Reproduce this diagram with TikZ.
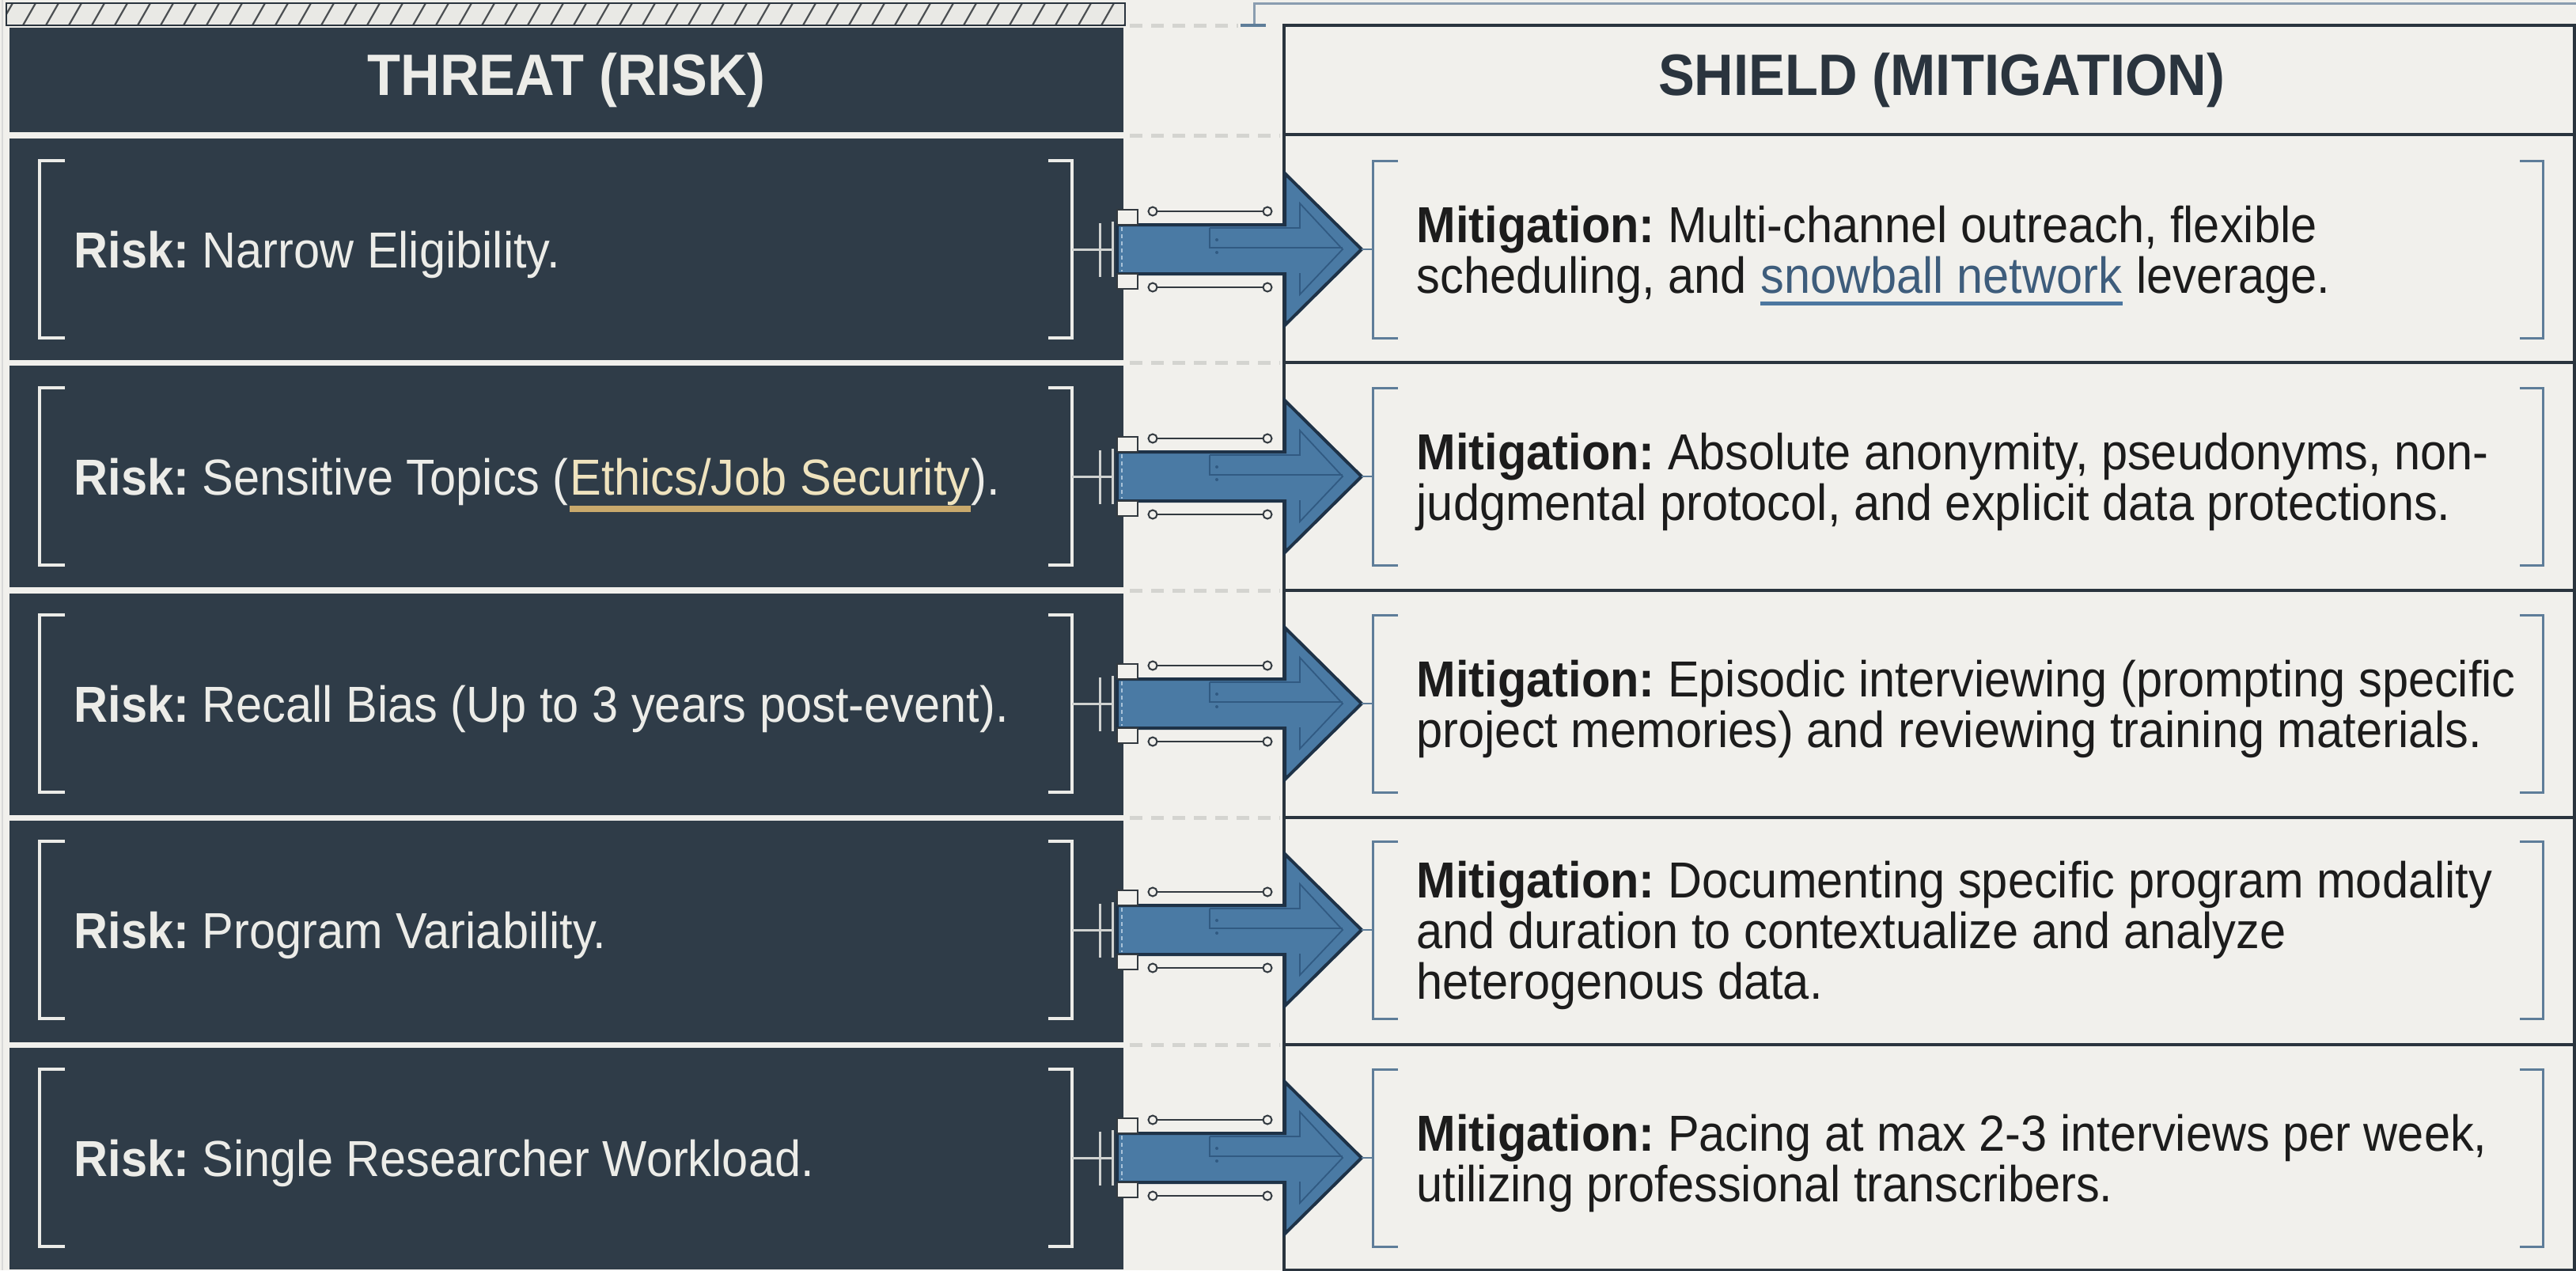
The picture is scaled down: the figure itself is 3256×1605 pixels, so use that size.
\documentclass[tikz,border=0pt]{standalone}
\usepackage{fontspec}
\setmainfont{Liberation Sans}[FakeStretch=0.93]
\usetikzlibrary{calc}
\frenchspacing
\definecolor{bg}{HTML}{F1F0EC}
\definecolor{slate}{HTML}{2F3C48}
\definecolor{ink}{HTML}{1C1C1C}
\definecolor{frame}{HTML}{2A343E}
\definecolor{lt}{HTML}{ECECE8}
\definecolor{brk}{HTML}{5E7D99}
\definecolor{toplinec}{HTML}{8A9DB0}
\definecolor{arrowfill}{HTML}{4A7AA4}
\definecolor{arrowline}{HTML}{1E3247}
\definecolor{arrowin}{HTML}{315A82}
\definecolor{shaftdash}{HTML}{A8C2D8}
\definecolor{dashc}{HTML}{D4D4D0}
\definecolor{gold}{HTML}{C9A96C}
\definecolor{cream}{HTML}{EFE3BE}
\definecolor{snow}{HTML}{3E5D7C}
\definecolor{snowline}{HTML}{4C77A0}
\definecolor{hatchc}{HTML}{4B4F52}
\definecolor{hatchbg}{HTML}{E9E9E5}
\definecolor{rodc}{HTML}{333A40}
\begin{document}
\frenchspacing
\begin{tikzpicture}[x=0.01cm,y=-0.01cm,
  lbox/.style={fill=slate, inner sep=0, minimum width=14.08cm},
  rbox/.style={draw=frame, line width=0.04cm, fill=bg, inner sep=0, minimum width=16.31cm},
  hdrtxt/.style={inner sep=0, font=\fontsize{21}{24}\selectfont\bfseries},
  ltxt/.style={inner sep=0, text=lt, font=\fontsize{18.2}{22}\selectfont\frenchspacing, anchor=base west},
  rtxt/.style={inner sep=0, text=ink, font=\fontsize{18.2}{22}\selectfont\frenchspacing, anchor=base west},
  lbrk/.style={draw=lt, line width=0.035cm},
  rbrk/.style={draw=brk, line width=0.03cm},
  sepdash/.style={draw=dashc, line width=0.05cm, dash pattern=on 0.16cm off 0.11cm},
  arrowbody/.style={fill=arrowfill, draw=arrowline, line width=0.04cm, line join=miter},
  arrowdeco/.style={draw=arrowin, line width=0.018cm},
  smallbox/.style={fill=bg, draw=rodc, line width=0.025cm},
  rod/.style={draw=rodc, line width=0.02cm},
  rodend/.style={fill=bg, draw=rodc, line width=0.02cm},
  tick/.style={draw=lt!85!slate, line width=0.03cm}
]
\fill[bg] (0,0) rectangle (3256,1605);
\useasboundingbox (0,0) rectangle (3256,1605);
\draw[black!15, line width=0.02cm] (3,0) -- (3,1605);

% hatched strip
\begin{scope}
  \clip (8,4) rectangle (1422,32);
  \fill[hatchbg] (8,4) rectangle (1422,32);
  \foreach \x in {0,29,...,1450} \draw[hatchc, line width=0.022cm] (\x,32) -- (\x+16,4);
\end{scope}
\draw[frame, line width=0.025cm] (8,4) rectangle (1422,32);

% top right frame line
\draw[toplinec, line width=0.03cm] (1585,32) -- (1585,4) -- (3260,4);
\draw[brk, line width=0.04cm] (1568,32) -- (1600,32);

% dashed separators between columns
\draw[sepdash] (1428,32) -- (1565,32);
\foreach \y in {171,458,746,1033,1320} \draw[sepdash] (1428,\y) -- (1618,\y);

% left column
\node[lbox, minimum height=1.32cm] (L0) at (716,101) {};
\node[hdrtxt, text=lt] (H0) at (716,101) {THREAT (RISK)};
\foreach \c [count=\i] in {315,602,890,1177,1464}
  \node[lbox, minimum height=2.80cm] (L\i) at (716,\c) {};

% right column
\node[rbox, minimum height=1.38cm] (R0) at (2438.5,101) {};
\node[hdrtxt, text=frame] (H1) at (2454,101) {SHIELD (MITIGATION)};
\node[rbox, minimum height=2.88cm] (R1) at (2438.5,314) {};
\node[rbox, minimum height=2.88cm] (R2) at (2438.5,602) {};
\node[rbox, minimum height=2.87cm] (R3) at (2438.5,889.5) {};
\node[rbox, minimum height=2.87cm] (R4) at (2438.5,1176.5) {};
\node[rbox, minimum height=2.85cm] (R5) at (2438.5,1462.5) {};
\draw[black!25, line width=0.03cm] (R5.south west) -- (R5.south east);

% brackets, arrows, fittings
\foreach \c in {315,602,889,1175,1463} {
  \draw[lbrk] (82,\c-112) -- (50,\c-112) -- (50,\c+112) -- (82,\c+112);
  \draw[lbrk] (1325,\c-112) -- (1355,\c-112) -- (1355,\c+112) -- (1325,\c+112);
  \draw[tick] (1355,\c) -- (1406,\c);
  \draw[tick] (1390,\c-33) -- (1390,\c+35);
  \draw[tick] (1406,\c-35) -- (1406,\c+35);
  \draw[rbrk] (1767,\c-112) -- (1735,\c-112) -- (1735,\c+112) -- (1767,\c+112);
  \draw[rbrk] (3185,\c-112) -- (3214,\c-112) -- (3214,\c+112) -- (3185,\c+112);
  \begin{scope}[shift={(0,\c)}]
    \draw[arrowbody] (1412,-31) -- (1624,-31) -- (1624,-96) -- (1721,0)
       -- (1624,96) -- (1624,31) -- (1412,31) -- cycle;
    \draw[arrowdeco] (1529,-27) -- (1529,-2) -- (1697,-2);
    \draw[arrowdeco] (1529,-27) -- (1643,-27) -- (1643,-58) -- (1697,0)
       -- (1643,57) -- (1643,30);
    \draw[shaftdash, line width=0.02cm, dash pattern=on 0.05cm off 0.04cm] (1418,-28) -- (1418,28);
    \fill[arrowin] (1538,-12) circle (2) (1538,4) circle (2);
    \draw[smallbox] (1412,-50) rectangle (1438,-31);
    \draw[smallbox] (1412,31) rectangle (1438,50);
    \draw[rod] (1457,-48) -- (1602,-48);
    \draw[rod] (1457,48) -- (1602,48);
    \draw[rodend] (1457,-48) circle (5.5) (1602,-48) circle (5.5);
    \draw[rodend] (1457,48) circle (5.5) (1602,48) circle (5.5);
    \draw[rbrk, line width=0.02cm] (1721,0) -- (1735,0);
  \end{scope}
}

% left texts
\node[ltxt] (t1) at (93,338) {\textbf{Risk:} Narrow Eligibility.};
\node[ltxt] (t2a) at (93,625) {\textbf{Risk:} Sensitive Topics (};
\node[ltxt, text=cream] (t2b) at (t2a.base east) {Ethics/Job Security};
\node[ltxt] (t2c) at (t2b.base east) {).};
\draw[gold, line width=0.08cm] ($(t2b.base west)+(0,18)$) -- ($(t2b.base east)+(0,18)$);
\node[ltxt] (t3) at (93,912) {\textbf{Risk:} Recall Bias (Up to 3 years post-event).};
\node[ltxt] (t4) at (93,1198) {\textbf{Risk:} Program Variability.};
\node[ltxt] (t5) at (93,1486) {\textbf{Risk:} Single Researcher Workload.};

% right texts
\node[rtxt] (m1a) at (1790,306) {\textbf{Mitigation:} Multi-channel outreach, flexible};
\node[rtxt] (m1b) at (1790,370) {scheduling, and\ \null};
\node[rtxt, text=snow] (m1c) at (m1b.base east) {snowball network};
\node[rtxt] (m1d) at (m1c.base east) {\ leverage.};
\draw[snowline, line width=0.05cm] ($(m1c.base west)+(0,13)$) -- ($(m1c.base east)+(0,13)$);

\node[rtxt] (m2a) at (1790,593) {\textbf{Mitigation:} Absolute anonymity, pseudonyms, non-};
\node[rtxt] (m2b) at (1790,657) {judgmental protocol, and explicit data protections.};

\node[rtxt] (m3a) at (1790,880) {\textbf{Mitigation:} Episodic interviewing (prompting specific};
\node[rtxt] (m3b) at (1790,944) {project memories) and reviewing training materials.};

\node[rtxt] (m4a) at (1790,1134) {\textbf{Mitigation:} Documenting specific program modality};
\node[rtxt] (m4b) at (1790,1198) {and duration to contextualize and analyze};
\node[rtxt] (m4c) at (1790,1262) {heterogenous data.};

\node[rtxt] (m5a) at (1790,1454) {\textbf{Mitigation:} Pacing at max 2-3 interviews per week,};
\node[rtxt] (m5b) at (1790,1518) {utilizing professional transcribers.};
\end{tikzpicture}
\end{document}
